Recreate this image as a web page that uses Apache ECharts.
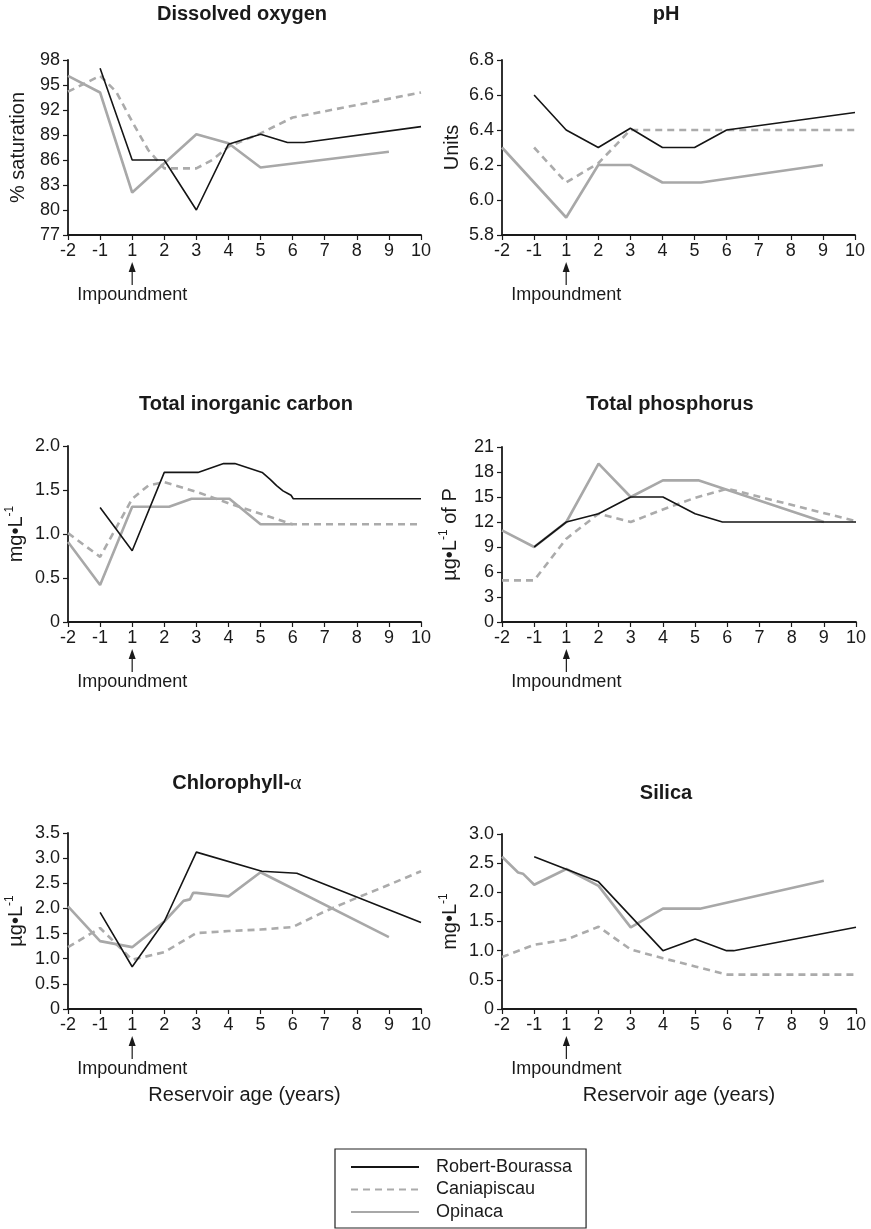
<!DOCTYPE html>
<html>
<head>
<meta charset="utf-8">
<script src="https://cdn.jsdelivr.net/npm/echarts@6/dist/echarts.min.js"></script>
<style>
  html, body { margin: 0; padding: 0; background: #fff; }
  #chart { width: 871px; height: 1229px; }
</style>
</head>
<body>
<div id="chart"></div>
<script>
  // x axis: positions 0..11 stand for the ages below (there is no year 0)
  let ageLabels = ['-2', '-1', '1', '2', '3', '4', '5', '6', '7', '8', '9', '10']
  let seriesNames = ['Robert-Bourassa', 'Caniapiscau', 'Opinaca']

  // [axis position, value]
  let doRB = [[1, 97], [2, 86], [3, 86], [4, 80], [5, 87.9], [6, 89.1], [6.84, 88.1], [7.36, 88.1], [11, 90]]
  let doCA = [[0, 94.2], [1, 96.1], [1.5, 94.2], [2, 90.6], [2.5, 87.2], [3, 85], [4, 85], [4.5, 86], [5, 87.6], [6, 89.2], [7, 91.1], [11, 94.1]]
  let doOP = [[0, 96.1], [1, 94.1], [2, 82.1], [4, 89.1], [5, 88], [6, 85.1], [10, 87]]

  let phRB = [[1, 6.6], [2, 6.4], [3, 6.3], [4, 6.41], [5, 6.3], [6, 6.3], [7, 6.4], [11, 6.5]]
  let phCA = [[1, 6.3], [2, 6.1], [3, 6.21], [4, 6.4], [11, 6.4]]
  let phOP = [[0, 6.3], [2, 5.9], [3, 6.2], [4, 6.2], [5, 6.1], [6.2, 6.1], [10, 6.2]]

  let ticRB = [[1, 1.3], [2, 0.81], [3, 1.7], [4.05, 1.7], [4.85, 1.8], [5.2, 1.8], [6.05, 1.7], [6.3, 1.62], [6.5, 1.55], [6.7, 1.49], [6.85, 1.46], [6.95, 1.44], [7.02, 1.4], [11, 1.4]]
  let ticCA = [[0, 1.01], [1, 0.74], [2, 1.4], [2.5, 1.55], [3, 1.59], [4, 1.48], [5, 1.35], [6, 1.23], [7, 1.11], [11, 1.11]]
  let ticOP = [[0, 0.91], [1, 0.42], [2, 1.31], [3.15, 1.31], [3.85, 1.4], [5.03, 1.4], [6, 1.11], [7, 1.11]]

  let tpRB = [[1, 9], [2, 12], [3, 13], [4, 15], [5, 15], [6, 13], [6.85, 12], [11, 12]]
  let tpCA = [[0, 5], [1, 5], [2, 10], [3, 13], [4, 12], [5, 13.5], [6, 14.9], [7, 16], [11, 12.1]]
  let tpOP = [[0, 11], [1, 9], [2, 12], [3, 19], [4, 15], [5, 17], [6.1, 17], [10, 12]]

  let chlRB = [[1, 1.92], [2, 0.84], [3, 1.74], [4, 3.12], [6.04, 2.74], [7.13, 2.7], [11, 1.72]]
  let chlCA = [[0, 1.23], [1, 1.61], [2, 0.98], [3, 1.13], [4, 1.51], [5, 1.55], [6, 1.58], [7, 1.63], [8, 1.94], [9, 2.21], [10, 2.47], [11, 2.74]]
  let chlOP = [[0, 2.04], [1, 1.35], [2, 1.23], [3, 1.74], [3.6, 2.15], [3.8, 2.18], [3.9, 2.31], [4, 2.31], [5, 2.24], [6, 2.72], [10, 1.43]]

  let siRB = [[1, 2.61], [3, 2.18], [5, 1.0], [6, 1.2], [6.98, 1.0], [7.2, 1.0], [11, 1.4]]
  let siCA = [[0, 0.89], [1, 1.1], [2, 1.19], [3, 1.41], [4, 1.02], [5, 0.87], [6, 0.73], [7, 0.59], [11, 0.59]]
  let siOP = [[0, 2.61], [0.5, 2.34], [0.65, 2.32], [1, 2.13], [2, 2.4], [3, 2.11], [4, 1.4], [5, 1.72], [6.15, 1.72], [10, 2.2]]

  let panels = [
    {title: 'Dissolved oxygen', tx: 242, ty: 4, yName: '% saturation', min: 77, max: 98, interval: 3, dec: 0,
      data: [doRB, doCA, doOP], grid: {left: 68, top: 60, width: 353, height: 175}},
    {title: 'pH', tx: 666, ty: 4, yName: 'Units', min: 5.8, max: 6.8, interval: 0.2, dec: 1,
      data: [phRB, phCA, phOP], grid: {left: 502, top: 60, width: 353, height: 175}},
    {title: 'Total inorganic carbon', tx: 246, ty: 394, yName: 'mg•L{sup|-1}', min: 0, max: 2, interval: 0.5, dec: 1,
      data: [ticRB, ticCA, ticOP], grid: {left: 68, top: 446, width: 353, height: 176}},
    {title: 'Total phosphorus', tx: 670, ty: 394, yName: 'µg•L{sup|-1} of P', min: 0, max: 21, interval: 3, dec: 0,
      data: [tpRB, tpCA, tpOP], grid: {left: 502, top: 447, width: 354, height: 175}},
    {title: 'Chlorophyll-{a|α}', tx: 237, ty: 772, yName: 'µg•L{sup|-1}', min: 0, max: 3.5, interval: 0.5, dec: 1,
      data: [chlRB, chlCA, chlOP], grid: {left: 68, top: 833, width: 353, height: 176}},
    {title: 'Silica', tx: 666, ty: 783, yName: 'mg•L{sup|-1}', min: 0, max: 3, interval: 0.5, dec: 1,
      data: [siRB, siCA, siOP], grid: {left: 502, top: 834, width: 354, height: 175}}
  ]

  let font = '"Liberation Sans", Arial, Helvetica, sans-serif'
  let ink = '#1a1a1a'
  let lineStyles = [
    {color: '#151515', width: 1.6, type: 'solid'},
    {color: '#ababab', width: 2.6, type: [7, 5]},
    {color: '#a8a8a8', width: 2.6, type: 'solid'}
  ]

  let myChart = echarts.init(document.getElementById('chart'))

  let grids = []
  let xAxes = []
  let yAxes = []
  let titles = []
  let series = []

  panels.forEach((p, i) => {
    grids.push(Object.assign({containLabel: false}, p.grid))
    titles.push({
      text: p.title,
      left: p.tx,
      top: p.ty,
      textAlign: 'center',
      padding: 0,
      textStyle: {
        fontFamily: font, fontSize: 20, fontWeight: 'bold', color: ink,
        rich: {a: {fontFamily: '"Liberation Serif", "DejaVu Serif", serif', fontSize: 22, fontWeight: 'normal', color: ink}}
      }
    })
    let bottomRow = i >= 4
    xAxes.push({
      type: 'value',
      gridIndex: i,
      min: 0,
      max: 11,
      interval: 1,
      name: bottomRow ? 'Reservoir age (years)' : '',
      nameLocation: 'middle',
      nameGap: 76,
      nameTextStyle: {fontFamily: font, fontSize: 20, color: ink},
      axisLine: {onZero: false, lineStyle: {color: ink, width: 1.8}},
      axisTick: {show: true, inside: false, length: 5, lineStyle: {color: ink, width: 1.2}},
      axisLabel: {
        fontFamily: font, fontSize: 18, color: ink, margin: 7,
        showMinLabel: true, showMaxLabel: true,
        formatter: v => ageLabels[Math.round(v)] || ''
      },
      splitLine: {show: false}
    })
    yAxes.push({
      type: 'value',
      gridIndex: i,
      min: p.min,
      max: p.max,
      interval: p.interval,
      name: p.yName,
      nameLocation: 'middle',
      nameRotate: 90,
      nameGap: 40,
      nameTextStyle: {
        fontFamily: font, fontSize: 20, color: ink,
        rich: {sup: {fontFamily: font, fontSize: 12, color: ink, verticalAlign: 'top', lineHeight: 24}}
      },
      axisLine: {show: true, lineStyle: {color: ink, width: 1.8}},
      axisTick: {show: true, inside: false, length: 5, lineStyle: {color: ink, width: 1.2}},
      axisLabel: {
        fontFamily: font, fontSize: 18, color: ink, margin: 8,
        showMinLabel: true, showMaxLabel: true,
        formatter: v => (Math.abs(v) < 1e-9 ? '0' : v.toFixed(p.dec))
      },
      splitLine: {show: false}
    })
    p.data.forEach((d, k) => {
      series.push({
        name: seriesNames[k],
        type: 'line',
        xAxisIndex: i,
        yAxisIndex: i,
        data: d,
        symbol: 'none',
        showSymbol: false,
        silent: true,
        animation: false,
        z: 3 - k,
        lineStyle: lineStyles[k],
        itemStyle: {color: lineStyles[k].color}
      })
    })
  })

  let option = {
    animation: false,
    textStyle: {fontFamily: font},
    title: titles,
    grid: grids,
    xAxis: xAxes,
    yAxis: yAxes,
    legend: {
      orient: 'vertical',
      left: 335,
      top: 1149,
      height: 70,
      padding: [8, 14, 6, 15],
      itemWidth: 68,
      itemHeight: 14,
      itemGap: 2.5,
      borderColor: '#222',
      borderWidth: 1.2,
      selectedMode: false,
      itemStyle: {opacity: 0},
      textStyle: {fontFamily: font, fontSize: 18, lineHeight: 20, color: ink, padding: [0, 0, 0, 12]},
      data: seriesNames
    },
    series: series
  }
  myChart.setOption(option)

  // "Impoundment" arrow under year 1 of every panel, placed through the axes
  let graphics = []
  panels.forEach((p, i) => {
    let pt = myChart.convertToPixel({gridIndex: i}, [2, p.min])
    let x = pt[0]
    let y = pt[1]
    graphics.push({
      type: 'line',
      shape: {x1: x, y1: y + 33, x2: x, y2: y + 50},
      style: {stroke: ink, lineWidth: 1.2}
    })
    graphics.push({
      type: 'polygon',
      shape: {points: [[x, y + 27], [x - 3.5, y + 37], [x + 3.5, y + 37]]},
      style: {fill: ink}
    })
    graphics.push({
      type: 'text',
      x: x,
      y: y + 60,
      style: {text: 'Impoundment', fill: ink, font: '18px ' + font, align: 'center', verticalAlign: 'middle'}
    })
  })
  myChart.setOption({graphic: graphics})
</script>
</body>
</html>
